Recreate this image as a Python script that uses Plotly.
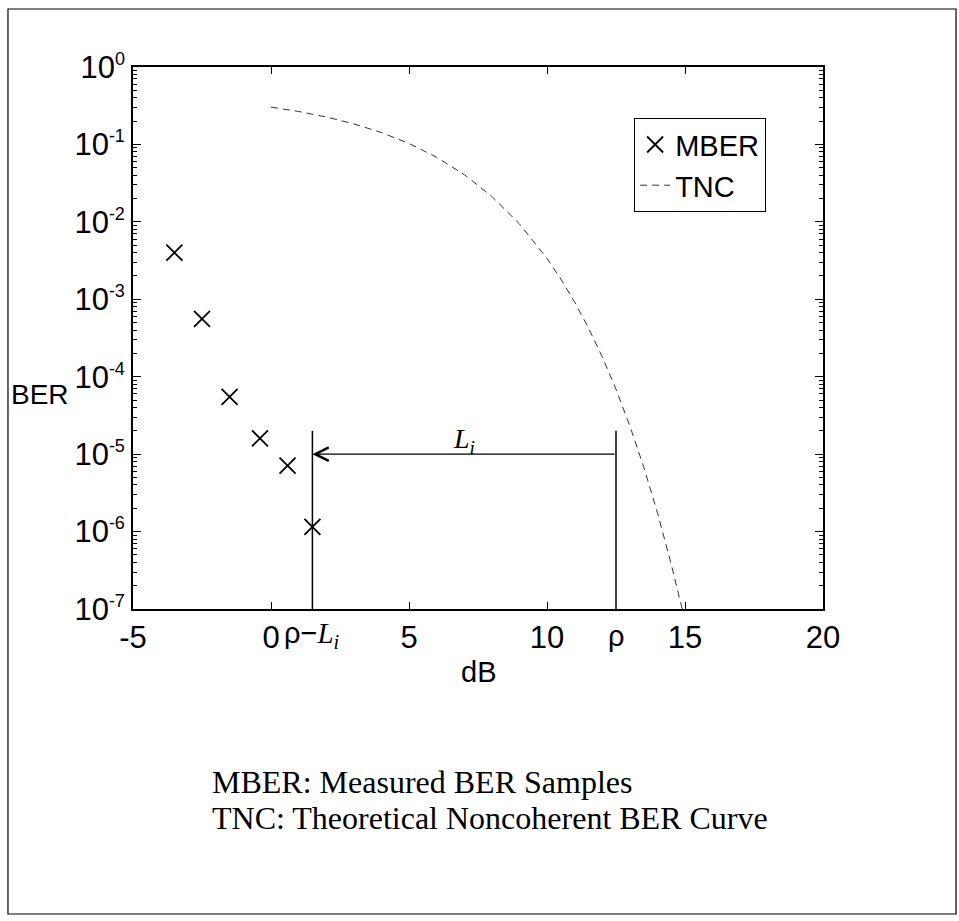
import plotly.graph_objects as go

# ---- data ----
mber_db = [-3.5, -2.5, -1.5, -0.4, 0.6, 1.5]
mber_ber = [4.0e-3, 5.6e-4, 5.5e-5, 1.6e-5, 7.1e-6, 1.15e-6]

tnc_db = [0, 1, 2, 3, 4, 5, 6, 7, 8, 9, 10, 10.5, 11, 11.5, 12, 12.5, 13, 13.5, 14, 14.5, 14.8, 14.9]
tnc_ber = [0.3033, 0.2665, 0.2264, 0.1844, 0.1424, 0.1029, 0.0683, 0.0408, 0.0213,
           0.00942, 0.00337, 0.00183, 9.23e-4, 4.28e-4, 1.81e-4, 6.9e-5, 2.32e-5,
           6.9e-6, 1.76e-6, 3.8e-7, 1.38e-7, 1.0e-7]

rho = 12.5
rho_minus_li = 1.5
marker_top = 2e-5
arrow_level = 1e-5
ber_floor = 1e-7

x_ticks = [-5, 0, 5, 10, 15, 20]
y_exps = [0, -1, -2, -3, -4, -5, -6, -7]

SANS = "Liberation Sans, Arial, sans-serif"
SERIF = "Liberation Serif, Times New Roman, serif"

fig = go.Figure()

fig.add_trace(go.Scatter(
    x=mber_db, y=mber_ber, mode="markers", name="MBER",
    marker=dict(symbol="x-thin", size=16, color="black",
                line=dict(color="black", width=1.8)),
))
fig.add_trace(go.Scatter(
    x=tnc_db, y=tnc_ber, mode="lines", name="TNC",
    line=dict(color="#333333", width=1, dash="7px,5px"),
))
# vertical marker lines at rho and rho - L_i
fig.add_trace(go.Scatter(
    x=[rho_minus_li, rho_minus_li, None, rho, rho],
    y=[ber_floor, marker_top, None, ber_floor, marker_top],
    mode="lines", line=dict(color="black", width=1.5),
    showlegend=False, hoverinfo="skip",
))

import math
arrow_log = math.log10(arrow_level)

annotations = []
# arrow from rho to rho - L_i
annotations.append(dict(
    x=rho_minus_li, y=arrow_log, ax=rho, ay=arrow_log, xref="x", yref="y", axref="x", ayref="y",
    showarrow=True, arrowhead=5, arrowsize=2.2, arrowwidth=1.2, arrowcolor="black",
    standoff=0, startstandoff=0, text="",
))
annotations.append(dict(
    x=(rho + rho_minus_li) / 2, y=-4.82, xref="x", yref="y",
    text="<i>L</i><sub><i>i</i></sub>", showarrow=False,
    font=dict(family=SERIF, size=28, color="black"), xanchor="center", yanchor="middle",
))
# special tick labels
annotations.append(dict(
    x=rho_minus_li, y=-0.048, xref="x", yref="paper",
    text="ρ−<span style=\"font-family:Liberation Serif\"><i>L</i><sub><i>i</i></sub></span>",
    showarrow=False, font=dict(family=SANS, size=29, color="black"),
    xanchor="center", yanchor="middle",
))
annotations.append(dict(
    x=rho, y=-0.05, xref="x", yref="paper", text="ρ",
    showarrow=False, font=dict(family=SANS, size=29, color="black"),
    xanchor="center", yanchor="middle",
))
# axis titles
annotations.append(dict(
    x=-0.1348, y=0.395, xref="paper", yref="paper", text="BER", showarrow=False,
    font=dict(family=SANS, size=28, color="black"), xanchor="center", yanchor="middle",
))
annotations.append(dict(
    x=0.5, y=-0.1162, xref="paper", yref="paper", text="dB", showarrow=False,
    font=dict(family=SANS, size=29, color="black"), xanchor="center", yanchor="middle",
))
# caption lines
annotations.append(dict(
    x=0.1116, y=-0.319, xref="paper", yref="paper", xanchor="left", yanchor="middle",
    text="MBER: Measured BER Samples", showarrow=False,
    font=dict(family=SERIF, size=32, color="black"),
))
annotations.append(dict(
    x=0.1116, y=-0.3855, xref="paper", yref="paper", xanchor="left", yanchor="middle",
    text="TNC: Theoretical Noncoherent BER Curve", showarrow=False,
    font=dict(family=SERIF, size=32, color="black"),
))

fig.update_layout(
    width=959, height=921,
    margin=dict(l=133, r=136, t=67, b=312),
    paper_bgcolor="white", plot_bgcolor="white",
    showlegend=True,
    legend=dict(
        x=0.726, y=0.906, xanchor="left", yanchor="top",
        bgcolor="white", bordercolor="black", borderwidth=1.2,
        font=dict(family=SANS, size=29, color="black"),
        itemwidth=30, tracegroupgap=0,
    ),
    annotations=annotations,
    shapes=[dict(type="rect", xref="paper", yref="paper",
                 x0=-0.1812, x1=1.1928, y0=-0.5627, y1=1.107,
                 line=dict(color="black", width=1.2), layer="below")],
)

fig.update_xaxes(
    range=[-5, 20], tickvals=x_ticks, ticktext=[str(v) for v in x_ticks],
    showgrid=False, zeroline=False, showline=True, linecolor="black", linewidth=1.8,
    mirror="ticks", ticks="inside", ticklen=7, tickwidth=1, tickcolor="black",
    tickfont=dict(family=SANS, size=31, color="black"),
)
fig.update_yaxes(
    type="log", range=[-7, 0],
    tickvals=[10.0 ** e for e in y_exps],
    ticktext=["10<sup><span style=\"font-size:18px\">%d</span></sup>" % e for e in y_exps],
    showgrid=False, zeroline=False, showline=True, linecolor="black", linewidth=1.8,
    mirror="ticks", ticks="inside", ticklen=8, tickwidth=1, tickcolor="black",
    minor=dict(ticks="inside", ticklen=4, tickwidth=1, tickcolor="black", dtick="D1", showgrid=False),
    tickfont=dict(family=SANS, size=31, color="black"),
)

fig.write_html("out.html")
